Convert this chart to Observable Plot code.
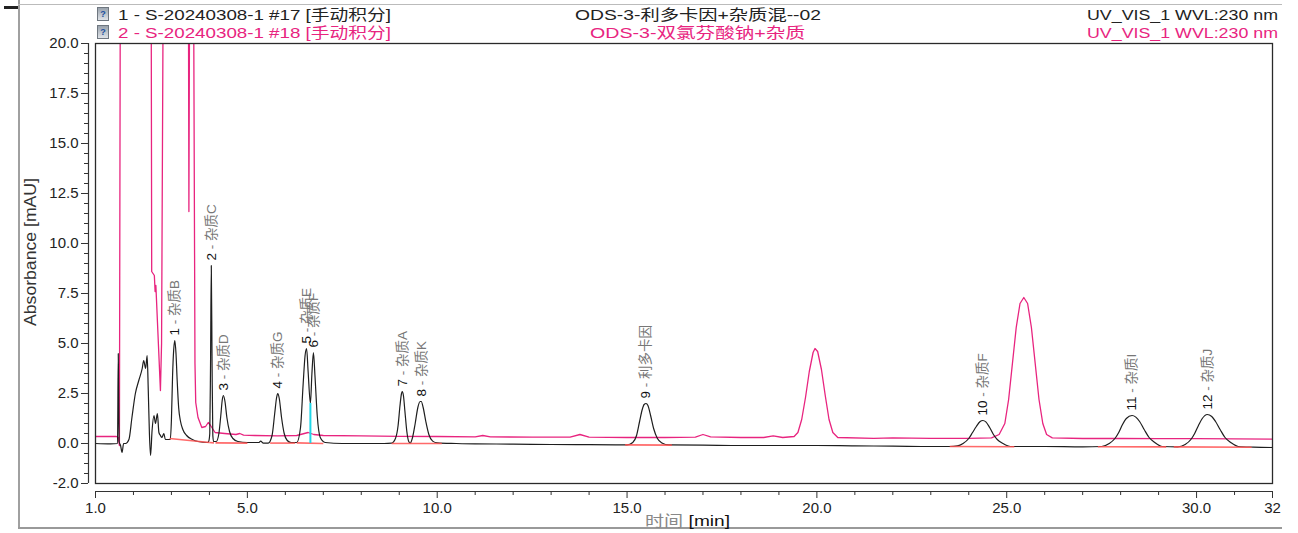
<!DOCTYPE html>
<html><head><meta charset="utf-8">
<script src="https://cdn.jsdelivr.net/npm/d3@7"></script>
<script src="https://cdn.jsdelivr.net/npm/@observablehq/plot@0.6"></script>
<style>
body{margin:0;background:#fff;}
#wrap{position:relative;width:1298px;height:533px;overflow:hidden;font-family:"Liberation Sans",Arial,"Noto Sans CJK SC",sans-serif;}
.abs{position:absolute;white-space:nowrap;line-height:17px;}
.ln{position:absolute;background:#a0a0a0;}
.icon{position:absolute;width:10px;height:12px;background:linear-gradient(#9aa3ad,#dfe3e8);border:1px solid #6f7780;font:bold 9px "Liberation Sans",Arial;color:#1b4fa0;text-align:center;line-height:12px;}
</style></head><body><div id="wrap"></div>
<script>
// ---------- data ----------
const headerLeft = ["1 - S-20240308-1 #17 [手动积分]", "2 - S-20240308-1 #18 [手动积分]"];
const headerCenter = ["ODS-3-利多卡因+杂质混--02", "ODS-3-双氯芬酸钠+杂质"];
const headerRight = ["UV_VIS_1 WVL:230 nm", "UV_VIS_1 WVL:230 nm"];
const seriesColors = ["#1e1e1e", "#e8247f"];

const xTicks = [1, 5, 10, 15, 20, 25, 30, 32];
const xTickLabels = ["1.0", "5.0", "10.0", "15.0", "20.0", "25.0", "30.0", "32"];
const xMinorTicks = d3.range(2, 32, 1).filter(t => !xTicks.includes(t));
const yTicks = [-2, 0, 2.5, 5, 7.5, 10, 12.5, 15, 17.5, 20];
const yTickLabels = ["-2.0", "0.0", "2.5", "5.0", "7.5", "10.0", "12.5", "15.0", "17.5", "20.0"];
const yMinorTicks = d3.range(-2, 20.01, 0.5).map(v => +v.toFixed(1)).filter(v => !yTicks.includes(v));

// trace 1 (black): [time min, absorbance mAU]
const trace1 = [
 [1.00,0.00],[1.40,-0.02],[1.58,0.00],[1.60,4.50],[1.62,0.10],[1.66,-0.10],[1.70,-0.45],[1.74,0.00],[1.79,0.00],
 [1.88,0.20],[1.96,1.30],[2.05,2.50],[2.14,3.15],[2.23,3.75],[2.27,4.15],[2.32,3.75],[2.36,4.40],[2.39,2.65],
 [2.42,0.50],[2.45,-0.60],[2.49,0.65],[2.54,1.40],[2.58,1.00],[2.63,1.50],[2.67,0.55],[2.71,0.40],[2.75,0.30],
 [2.80,0.50],[2.84,0.20],[2.93,0.20],
 [2.97,0.20],[3.00,1.20],[3.03,3.40],[3.06,4.70],[3.09,5.15],[3.12,4.50],[3.15,3.20],[3.19,1.80],[3.24,1.10],
 [3.30,0.70],[3.40,0.40],[3.55,0.20],[3.70,0.10],[3.95,0.05],
 [3.98,0.10],[4.01,0.50],[4.03,4.00],[4.05,8.90],[4.07,4.00],[4.09,0.40],[4.11,0.10],
 [4.18,0.10],[4.25,0.50],[4.30,1.40],[4.34,2.20],[4.37,2.40],[4.41,2.10],[4.46,1.30],[4.53,0.60],[4.62,0.25],
 [4.75,0.10],[5.00,0.05],[5.30,0.05],[5.35,0.12],[5.42,0.02],
 [5.55,0.02],[5.65,0.40],[5.72,1.50],[5.77,2.30],[5.80,2.50],[5.84,2.25],[5.90,1.30],[5.97,0.50],[6.05,0.15],[6.15,0.05],
 [6.30,0.05],[6.40,0.80],[6.47,3.00],[6.52,4.40],[6.56,4.75],[6.60,3.60],[6.66,2.00],[6.70,3.50],[6.74,4.55],
 [6.78,3.40],[6.84,1.40],[6.92,0.30],[7.05,0.05],
 [7.50,0.00],[8.00,0.00],[8.60,0.00],
 [8.80,0.02],[8.90,0.25],[8.97,0.90],[9.02,1.90],[9.06,2.50],[9.08,2.60],[9.11,2.40],[9.15,1.60],[9.20,0.60],
 [9.25,0.10],[9.29,0.02],[9.35,0.30],[9.42,1.00],[9.49,1.80],[9.55,2.10],[9.58,2.10],[9.63,1.80],[9.70,1.10],
 [9.78,0.45],[9.88,0.12],[10.00,0.03],[10.50,0.00],
 [11.0,-0.02],[12.0,-0.03],[13.0,-0.05],[14.0,-0.06],[15.0,-0.07],
 [15.15,0.05],[15.25,0.40],[15.33,1.10],[15.40,1.70],[15.45,1.95],[15.50,2.00],[15.55,1.90],[15.62,1.40],
 [15.70,0.75],[15.80,0.25],[15.92,0.03],[16.10,-0.07],
 [17.0,-0.08],[18.0,-0.10],[19.0,-0.10],[20.0,-0.10],[21.0,-0.12],[22.0,-0.13],[23.0,-0.15],[23.50,-0.15],
 [23.70,-0.12],[23.85,0.00],[24.00,0.25],[24.10,0.55],[24.20,0.85],[24.30,1.10],[24.37,1.15],[24.45,1.08],
 [24.55,0.80],[24.65,0.45],[24.75,0.20],[24.90,0.00],[25.10,-0.15],
 [26.0,-0.15],[27.0,-0.17],[27.50,-0.15],[27.70,0.00],[27.85,0.25],[27.95,0.55],[28.05,0.95],[28.15,1.25],
 [28.30,1.40],[28.40,1.32],[28.50,1.10],[28.62,0.70],[28.75,0.30],[28.90,0.05],[29.10,-0.15],
 [29.50,-0.17],[29.70,-0.05],[29.85,0.20],[29.95,0.50],[30.05,0.90],[30.15,1.25],[30.28,1.45],[30.40,1.35],
 [30.50,1.10],[30.62,0.70],[30.75,0.30],[30.90,0.05],[31.10,-0.15],[31.50,-0.18],[32.00,-0.20]
];

// trace 2 (pink): values above 20 run off the top of the chart
const trace2 = [
 [1.00,0.35],[1.55,0.35],[1.60,0.30],[1.63,-0.10],[1.66,30],[2.46,30],[2.48,8.6],[2.55,8.4],[2.57,7.6],[2.59,7.9],
 [2.71,2.65],[2.74,5.0],[2.80,30],[3.44,30],[3.46,11.6],[3.49,30],[3.57,30],[3.62,4.0],[3.64,2.05],[3.70,1.30],
 [3.80,0.80],[3.90,0.85],[3.97,1.05],[4.03,0.90],[4.15,0.55],[4.40,0.50],[4.70,0.45],[4.80,0.50],[4.90,0.42],
 [5.20,0.40],[5.80,0.38],[6.30,0.40],[6.60,0.55],[6.75,0.45],[7.00,0.40],[8.00,0.38],[9.00,0.36],[10.00,0.35],
 [11.00,0.33],[11.20,0.40],[11.40,0.33],[12.50,0.32],[13.50,0.32],[13.76,0.45],[14.00,0.32],[15.00,0.30],
 [16.00,0.30],[16.80,0.32],[17.00,0.45],[17.20,0.33],[18.00,0.30],[18.60,0.30],[18.85,0.38],[19.10,0.30],
 [19.40,0.35],[19.50,0.55],[19.60,1.20],[19.70,2.30],[19.80,3.60],[19.90,4.55],[19.95,4.75],[20.02,4.60],
 [20.12,3.70],[20.22,2.40],[20.32,1.20],[20.42,0.55],[20.55,0.30],[21.50,0.26],[22.00,0.28],[23.00,0.26],
 [24.00,0.26],[24.60,0.28],[24.80,0.45],[24.95,1.00],[25.05,2.20],[25.15,4.00],[25.25,5.80],[25.35,7.00],
 [25.45,7.30],[25.55,7.00],[25.65,5.80],[25.75,4.00],[25.85,2.20],[25.95,1.00],[26.05,0.45],[26.20,0.28],
 [27.00,0.25],[28.00,0.25],[29.00,0.24],[30.00,0.24],[31.00,0.23],[32.00,0.22]
];

// integrated peaks of trace 1
const peakTimes = [3.09, 4.05, 4.37, 5.80, 6.56, 6.74, 9.08, 9.58, 15.50, 24.37, 28.30, 30.28];
const peakHeights = [5.15, 8.90, 2.40, 2.50, 4.75, 4.55, 2.60, 2.10, 2.00, 1.15, 1.40, 1.45];
const peakNames = ["1 - 杂质B", "2 - 杂质C", "3 - 杂质D", "4 - 杂质G", "5 - 杂质E", "6 - 杂质F",
                   "7 - 杂质A", "8 - 杂质K", "9 - 利多卡因", "10 - 杂质F", "11 - 杂质I", "12 - 杂质J"];
// integration baselines: start time, start value, end time, end value
const baseStart = [2.95, 4.00, 4.16, 5.60, 6.30, 8.80, 14.95, 23.50, 27.40, 29.40];
const baseStartV = [0.25, 0.05, 0.03, 0.02, 0.03, 0.00, -0.07, -0.15, -0.16, -0.17];
const baseEnd = [4.00, 4.12, 5.00, 6.26, 7.00, 10.12, 16.18, 25.20, 29.20, 31.45];
const baseEndV = [0.05, 0.03, 0.02, 0.02, 0.00, 0.00, -0.08, -0.16, -0.17, -0.19];
const dropTime = [6.66];
const dropValue = [2.00];

// ---------- build ----------
const t1 = trace1.map(([t, v]) => ({t, v}));
const t2 = trace2.map(([t, v]) => ({t, v}));
const peaks = peakTimes.map((t, i) => ({t, v: peakHeights[i], name: peakNames[i]}));
const bases = baseStart.map((t, i) => ({x1: t, y1: baseStartV[i], x2: baseEnd[i], y2: baseEndV[i]}));
const drops = dropTime.map((t, i) => ({t, v: dropValue[i]}));

const W = 1298, H = 533;
const chart = Plot.plot({
  width: W, height: H,
  marginLeft: 95, marginRight: 26, marginTop: 43, marginBottom: 50,
  style: {fontFamily: '"Liberation Sans", Arial, "Noto Sans CJK SC", sans-serif', fontSize: "15px", color: "#222", background: "transparent", overflow: "visible"},
  x: {domain: [1, 32]},
  y: {domain: [-2, 20]},
  marks: [
    Plot.line(t2, {x: "t", y: "v", stroke: seriesColors[1], strokeWidth: 1.3, clip: true, curve: "linear"}),
    Plot.line(t1, {x: "t", y: "v", stroke: seriesColors[0], strokeWidth: 1.2, clip: true, curve: "monotone-x"}),
    Plot.link(bases, {x1: "x1", y1: "y1", x2: "x2", y2: "y2", stroke: "#ff5050", strokeWidth: 1.6, strokeOpacity: 0.85}),
    Plot.ruleX(drops, {x: "t", y1: () => 0, y2: "v", stroke: "#1fd6e8", strokeWidth: 2}),
    Plot.text(peaks, {x: "t", y: "v", text: "name", rotate: -90, textAnchor: "start", dy: -5, fontSize: 13.5, fill: "#222"}),
    Plot.frame({stroke: "#2a2a2a", strokeWidth: 1.3}),
    // y axis (offset left of the frame)
    Plot.ruleX([1], {y1: () => -2, y2: () => 20, dx: -7, stroke: "#333", strokeWidth: 1.2}),
    Plot.axisY({ticks: yTicks, tickSize: 7, tickPadding: 3, dx: -7, label: null, stroke: "#333", fontSize: 15, fill: "#222",
      tickFormat: d => yTickLabels[yTicks.indexOf(d)]}),
    Plot.axisY({ticks: yMinorTicks, tickSize: 4, dx: -7, label: null, stroke: "#333", tickFormat: () => ""}),
    // x axis (offset below the frame)
    Plot.ruleY([-2], {x1: () => 1, x2: () => 32, dy: 8, stroke: "#333", strokeWidth: 1.2}),
    Plot.axisX({ticks: xTicks, tickSize: 7, tickPadding: 4, dy: 8, label: null, stroke: "#333", fontSize: 15, fill: "#222",
      tickFormat: d => xTickLabels[xTicks.indexOf(d)]}),
    Plot.axisX({ticks: xMinorTicks, tickSize: 4, dy: 8, label: null, stroke: "#333", tickFormat: () => ""})
  ]
});
chart.style.position = "absolute";
chart.style.left = "0px";
chart.style.top = "0px";
const wrap = document.getElementById("wrap");
wrap.appendChild(chart);

// colour the peak numbers black and the names grey
d3.select(chart).selectAll("text").each(function() {
  const s = this.textContent;
  const m = s.match(/^(\d+)( - .*)$/);
  if (!m || this.querySelector("tspan")) return;
  this.textContent = "";
  d3.select(this).append("tspan").attr("fill", "#111").text(m[1]);
  d3.select(this).append("tspan").attr("fill", "#777").text(m[2]);
});

// ---------- HTML decorations ----------
function add(html, cls, css) {
  const d = document.createElement("div");
  d.className = cls; d.innerHTML = html; Object.assign(d.style, css);
  wrap.appendChild(d); return d;
}
add("", "ln", {left: "18px", top: "0px", width: "1.5px", height: "528px"});
add("", "ln", {left: "18px", top: "4px", width: "1264px", height: "1px", background: "#bbb"});
add("", "ln", {left: "18px", top: "527px", width: "1264px", height: "1.5px", background: "#999"});
add("", "ln", {left: "4px", top: "6px", width: "14px", height: "3px", background: "#222"});
add("?", "icon", {left: "97px", top: "7px"});
add("?", "icon", {left: "97px", top: "25px"});

function fit(el, x0, x1) {
  const w = el.getBoundingClientRect().width;
  el.style.left = x0 + "px";
  el.style.transformOrigin = "0 50%";
  el.style.transform = `scaleX(${(x1 - x0) / w})`;
}
const rowsTop = [6, 24];
[0, 1].forEach(i => {
  const col = seriesColors[i] === "#1e1e1e" ? "#222" : seriesColors[i];
  const a = add(headerLeft[i], "abs", {top: rowsTop[i] + "px", left: "0px", fontSize: "15px", color: col});
  fit(a, 118, 391);
  const b = add(headerCenter[i], "abs", {top: rowsTop[i] + "px", left: "0px", fontSize: "15px", color: col});
  if (i === 0) fit(b, 575, 821); else fit(b, 590, 805);
  const c = add(headerRight[i], "abs", {top: rowsTop[i] + "px", left: "0px", fontSize: "15px", color: col});
  fit(c, 1087, 1278);
});

// axis titles
const yt = add("Absorbance [mAU]", "abs", {left: "30px", top: "252px", fontSize: "16px", color: "#333"});
const ytw = yt.getBoundingClientRect().width;
yt.style.transform = `translate(-50%,-50%) rotate(-90deg) scaleX(${148 / ytw})`;
const xt = add('<span style="color:#888">时间</span> <span style="color:#111">[min]</span>', "abs", {left: "0px", top: "512px", fontSize: "15px"});
fit(xt, 645, 730);
</script>
</body></html>
